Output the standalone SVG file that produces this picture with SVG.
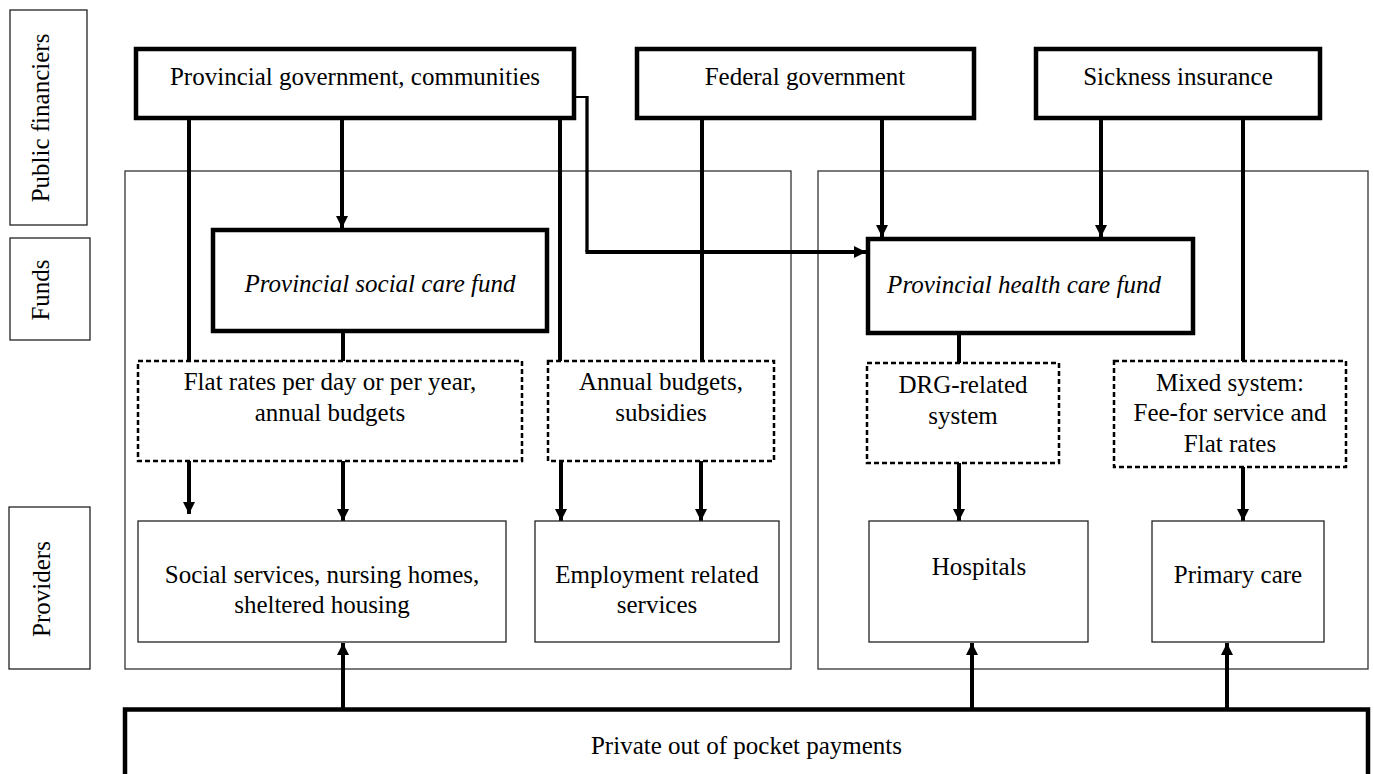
<svg xmlns="http://www.w3.org/2000/svg" width="1374" height="774" viewBox="0 0 1374 774">
<defs>
<style>
text{font-family:"Liberation Serif","Times New Roman",serif;font-size:25px;fill:#000;text-anchor:middle}
.it{font-style:italic}
.thin{fill:#fff;stroke:#222;stroke-width:1.3}
.region{fill:none;stroke:#333;stroke-width:1.3}
.thick{fill:#fff;stroke:#000;stroke-width:4.5}
.dash{fill:#fff;stroke:#000;stroke-width:2.5;stroke-dasharray:5 3}
.c{fill:none;stroke:#000;stroke-width:4}
.a{fill:none;stroke:#000;stroke-width:4;marker-end:url(#ah)}
</style>
<marker id="ah" markerUnits="userSpaceOnUse" markerWidth="12" markerHeight="12" refX="12" refY="6" orient="auto">
<path d="M0,0 L12,6 L0,12 z" fill="#000"/>
</marker>
</defs>
<rect width="1374" height="774" fill="#fff"/>

<g id="row-labels">
<g id="label-public"><rect class="thin" x="10" y="10" width="77" height="215"/><text transform="translate(49,118) rotate(-90)">Public financiers</text></g>
<g id="label-funds"><rect class="thin" x="10" y="238" width="80" height="102"/><text transform="translate(49,290) rotate(-90)">Funds</text></g>
<g id="label-providers"><rect class="thin" x="9" y="507" width="81" height="162"/><text transform="translate(50,589) rotate(-90)">Providers</text></g>
</g>

<g id="regions">
<rect class="region" x="125" y="171" width="666" height="498"/>
<rect class="region" x="818" y="171" width="550" height="498"/>
</g>

<g id="connectors">
<line class="c" x1="189" y1="118" x2="189" y2="361"/>
<line class="a" x1="342" y1="118" x2="342" y2="228"/>
<line class="c" x1="560" y1="118" x2="560" y2="361"/>
<line x1="574" y1="97" x2="587" y2="97" stroke="#000" stroke-width="2"/>
<line x1="587" y1="96" x2="587" y2="252" stroke="#000" stroke-width="3.3"/>
<line class="a" x1="585.5" y1="252" x2="866" y2="252"/>
<line class="c" x1="702" y1="118" x2="702" y2="361"/>
<line class="a" x1="882" y1="118" x2="882" y2="237"/>
<line class="a" x1="1101" y1="118" x2="1101" y2="237"/>
<line class="c" x1="1243" y1="118" x2="1243" y2="361"/>
<line class="c" x1="343" y1="331" x2="343" y2="361"/>
<line class="c" x1="959" y1="333" x2="959" y2="363"/>
<line class="a" x1="189" y1="461" x2="189" y2="514"/>
<line class="a" x1="343" y1="461" x2="343" y2="521"/>
<line class="a" x1="561" y1="461" x2="561" y2="521"/>
<line class="a" x1="701" y1="461" x2="701" y2="521"/>
<line class="a" x1="959" y1="463" x2="959" y2="521"/>
<line class="a" x1="1243" y1="467" x2="1243" y2="521"/>
<line class="a" x1="343" y1="709" x2="343" y2="643"/>
<line class="a" x1="972" y1="709" x2="972" y2="643"/>
<line class="a" x1="1227" y1="709" x2="1227" y2="643"/>
</g>

<g id="provincial-government"><rect class="thick" x="136" y="49" width="438" height="69"/><text x="355" y="85">Provincial government, communities</text></g>
<g id="federal-government"><rect class="thick" x="637" y="49" width="337" height="69"/><text x="805" y="85">Federal government</text></g>
<g id="sickness-insurance"><rect class="thick" x="1036" y="49" width="284" height="69"/><text x="1178" y="85">Sickness insurance</text></g>

<g id="social-care-fund"><rect class="thick" x="213" y="230" width="334" height="101"/><text class="it" x="380" y="292">Provincial social care fund</text></g>
<g id="health-care-fund"><rect class="thick" x="868" y="239" width="325" height="94"/><text class="it" x="1024" y="293">Provincial health care fund</text></g>

<g id="flat-rates"><rect class="dash" x="138" y="361" width="384" height="100"/><text x="330" y="390">Flat rates per day or per year,</text><text x="330" y="421">annual budgets</text></g>
<g id="annual-budgets"><rect class="dash" x="548" y="361" width="226" height="100"/><text x="661" y="390">Annual budgets,</text><text x="661" y="421">subsidies</text></g>
<g id="drg"><rect class="dash" x="867" y="363" width="192" height="100"/><text x="963" y="393">DRG-related</text><text x="963" y="424">system</text></g>
<g id="mixed"><rect class="dash" x="1114" y="361" width="232" height="106"/><text x="1230" y="391">Mixed system:</text><text x="1230" y="421">Fee-for service and</text><text x="1230" y="452">Flat rates</text></g>

<g id="social-services"><rect class="thin" x="138" y="521" width="368" height="121"/><text x="322" y="583">Social services, nursing homes,</text><text x="322" y="613">sheltered housing</text></g>
<g id="employment"><rect class="thin" x="535" y="521" width="244" height="121"/><text x="657" y="583">Employment related</text><text x="657" y="613">services</text></g>
<g id="hospitals"><rect class="thin" x="869" y="521" width="219" height="121"/><text x="979" y="575">Hospitals</text></g>
<g id="primary-care"><rect class="thin" x="1152" y="521" width="172" height="121"/><text x="1238" y="583">Primary care</text></g>

<g id="private-payments"><rect class="thick" x="125" y="709.5" width="1243" height="90"/><text x="746.5" y="754">Private out of pocket payments</text></g>
</svg>
